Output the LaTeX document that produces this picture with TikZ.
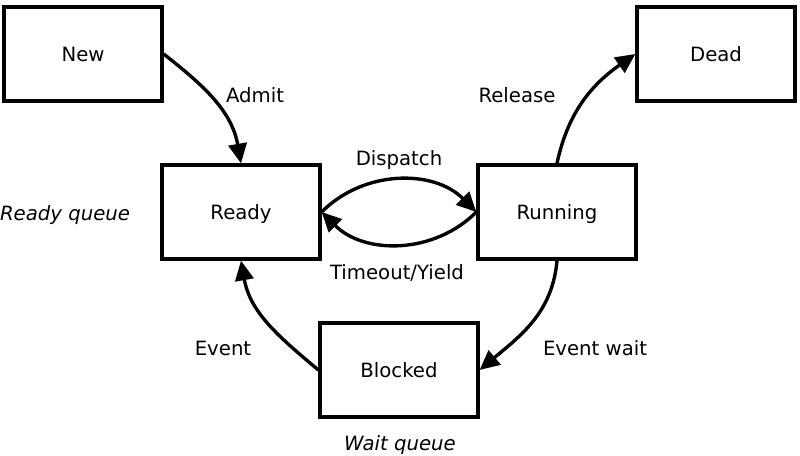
\documentclass[tikz,border=0pt]{standalone}
\usepackage{fontspec}
\setmainfont{DejaVu Sans}
\usetikzlibrary{arrows.meta, positioning}

\tikzset{
  every node/.style={text height=0.73em, text depth=0pt},
  state/.style={draw, line width=2.3pt, fill=white, minimum width=3.95cm, minimum height=2.35cm, inner sep=0pt},
  trans/.style={line width=2.4pt, -{Triangle[length=14pt, width=13pt]}},
  lbl/.style={inner sep=0pt},
  queue/.style={inner sep=0pt, font=\fontsize{14}{17}\selectfont\itshape}
}

\begin{document}
\begin{tikzpicture}[x=0.025cm, y=-0.025cm, font=\fontsize{14}{17}\selectfont]
  % Page
  \fill[white] (0,0) rectangle (800,455);
  \useasboundingbox (0,0) rectangle (800,455);

  % States
  \node[state] (new) at (83,54) {\raisebox{-2pt}{New}};
  \node[state] (ready) at (241,212) {\raisebox{-2pt}{Ready}};
  \node[state] (running) at (557,212) {\raisebox{-2pt}{Running}};
  \node[state] (dead) at (716,54) {\raisebox{-2pt}{Dead}};
  \node[state] (blocked) at (399,370) {\raisebox{-2pt}{Blocked}};

  % Transitions
  \draw[trans] (new.east) to[out=-38, in=100] (ready.north);
  \draw[trans] (running.north) to[out=78, in=215] (dead.west);
  \draw[trans] (ready.east) to[bend left=45] (running.west);
  \draw[trans] (running.west) to[bend left=45] (ready.east);
  \draw[trans] (running.south) to[out=-95, in=40] (blocked.east);
  \draw[trans] (blocked.west) to[out=140, in=-80] (ready.south);

  % Labels
  \node[lbl] (admit) at (255,97) {Admit};
  \node[lbl] (release) at (517,97) {Release};
  \node[lbl] (dispatch) at (399,160) {Dispatch};
  \node[lbl] (timeout) at (397,274) {Timeout/Yield};
  \node[lbl] (event) at (223,350) {Event};
  \node[lbl] (eventwait) at (595,350) {Event wait};

  % Queues
  \node[queue] (readyq) at (65,215) {Ready queue};
  \node[queue] (waitq) at (400,445) {Wait queue};
\end{tikzpicture}
\end{document}
